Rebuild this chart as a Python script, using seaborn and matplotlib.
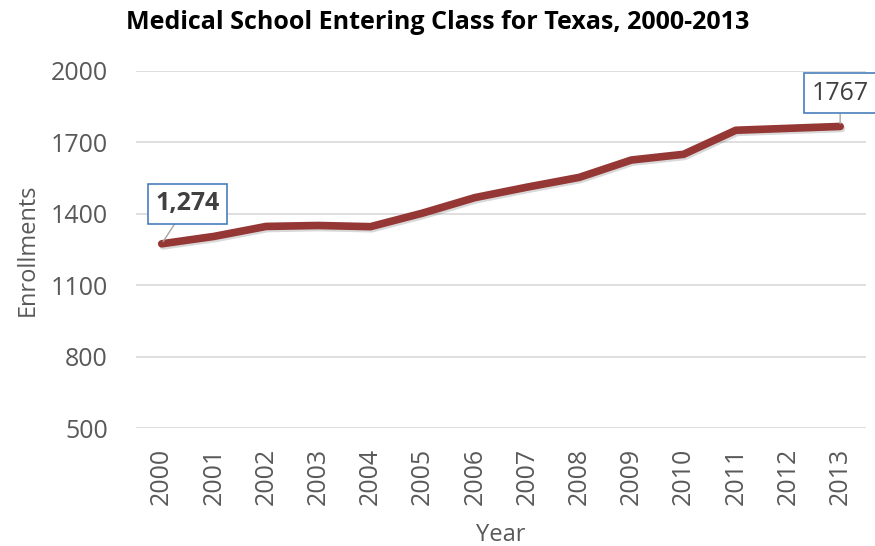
import numpy as np
import pandas as pd
import seaborn as sns
import matplotlib.pyplot as plt
import matplotlib.patheffects as pe

years = ['2000', '2001', '2002', '2003', '2004', '2005', '2006',
         '2007', '2008', '2009', '2010', '2011', '2012', '2013']
enrollments = [1274, 1305, 1347, 1351, 1346, 1403, 1468,
               1512, 1553, 1626, 1650, 1751, 1759, 1767]
y_ticks = [500, 800, 1100, 1400, 1700, 2000]

df = pd.DataFrame({'Year': years, 'Enrollments': enrollments})

sns.set_style('white')
plt.rcParams['font.family'] = ['Open Sans', 'DejaVu Sans']
text_color = '#595959'

fig = plt.figure(figsize=(8.75, 5.46), dpi=100, facecolor='white')
ax = fig.add_axes([0.155, 0.216, 0.835, 0.654])

sns.lineplot(data=df, x='Year', y='Enrollments', ax=ax, color='#953735',
             linewidth=5.5, sort=False, solid_capstyle='round',
             path_effects=[pe.SimpleLineShadow(offset=(1, -1.5), alpha=0.15),
                           pe.Normal()], zorder=3)

ax.set_xlim(-0.5, len(years) - 0.5)
ax.set_ylim(500, 2000)
ax.set_yticks(y_ticks)
ax.yaxis.grid(True, color='#d9d9d9', linewidth=1.2)
ax.xaxis.grid(False)
for s in ['top', 'right', 'left', 'bottom']:
    ax.spines[s].set_visible(False)
ax.tick_params(axis='both', length=0, labelsize=18, colors=text_color)
ax.tick_params(axis='y', pad=20)
ax.tick_params(axis='x', rotation=90, pad=14)

ax.set_xlabel('Year', fontsize=17, color=text_color, labelpad=13)
ax.set_ylabel('Enrollments', fontsize=17, color=text_color, labelpad=8)
# title is centred on the figure, not on the plot area
ax.set_title('Medical School Entering Class for Texas, 2000-2013',
             fontsize=18, weight='bold', color='black', pad=30, x=0.413)

box = dict(boxstyle='square,pad=0.3', fc='white', ec='#4a7ebb', lw=1.2)
ax.annotate(f'{enrollments[0]:,}', xy=(0, enrollments[0]), xytext=(26, 40),
            textcoords='offset pixels', ha='center', va='center', fontsize=18,
            weight='bold', color='#404040', bbox=box,
            arrowprops=dict(arrowstyle='-', color='#a6a6a6', lw=1,
                            shrinkA=0, shrinkB=2), zorder=5)
ax.annotate(f'{enrollments[-1]}', xy=(13, enrollments[-1]), xytext=(0, 33),
            textcoords='offset pixels', ha='center', va='center', fontsize=18,
            color='#404040', bbox=box,
            arrowprops=dict(arrowstyle='-', color='#a6a6a6', lw=1,
                            shrinkA=0, shrinkB=2), zorder=5)

plt.savefig('out.png', dpi=100)
